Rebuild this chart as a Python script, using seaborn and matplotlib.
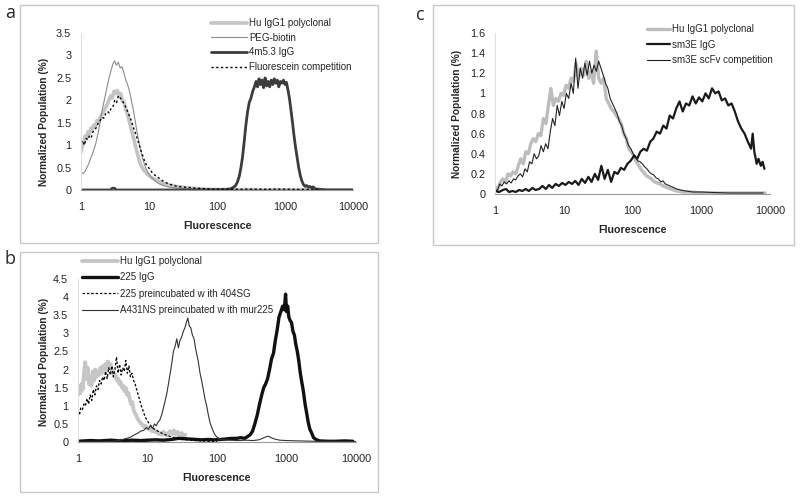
import numpy as np
import seaborn as sns
import matplotlib.pyplot as plt
from matplotlib.patches import Rectangle

sns.set_theme(style="white")
plt.rcParams["font.family"] = ["Liberation Sans", "DejaVu Sans"]

# ---------------- panel a ----------------
a_hu_x = [1.0, 1.05, 1.1, 1.15, 1.2, 1.27, 1.33, 1.4, 1.47, 1.55,
          1.63, 1.72, 1.82, 1.92, 2.03, 2.15, 2.28, 2.42, 2.57, 2.72,
          2.88, 3.05, 3.23, 3.42, 3.62, 3.83, 4.05, 4.3, 4.55, 4.82,
          5.1, 5.4, 5.72, 6.05, 6.4, 6.8, 7.2, 7.6, 8.1, 8.6,
          9.1, 9.7, 10.3, 11, 12, 13, 14.5, 16, 18, 20,
          22.5, 25, 28, 32, 37, 43, 50, 60, 75, 100,
          200, 500, 1000, 3000, 10000]
a_hu_y = [0.85, 1.0, 1.05, 1.2, 1.15, 1.3, 1.25, 1.38, 1.35, 1.45,
          1.42, 1.55, 1.52, 1.62, 1.68, 1.75, 1.82, 1.9, 2.0, 2.1,
          2.05, 2.2, 2.15, 2.22, 2.1, 2.15, 2.0, 1.95, 1.8, 1.7,
          1.55, 1.4, 1.25, 1.1, 0.95, 0.8, 0.65, 0.55, 0.48, 0.42,
          0.38, 0.34, 0.3, 0.27, 0.24, 0.21, 0.18, 0.15, 0.13, 0.11,
          0.1, 0.08, 0.07, 0.06, 0.05, 0.04, 0.03, 0.02, 0.015, 0.01,
          0.01, 0.005, 0.005, 0.005, 0.005]

a_peg_x = [1.0, 1.08, 1.15, 1.22, 1.3, 1.38, 1.47, 1.56, 1.66, 1.77,
           1.88, 2.0, 2.13, 2.27, 2.42, 2.58, 2.75, 2.93, 3.12, 3.32,
           3.54, 3.77, 4.0, 4.27, 4.55, 4.85, 5.17, 5.5, 5.86, 6.25,
           6.65, 7.1, 7.55, 8.05, 8.6, 9.15, 9.75, 10.4, 11.1, 12,
           13, 14.5, 16, 18, 20, 23, 27, 32, 40, 50,
           70, 100, 300, 1000, 3000, 10000]
a_peg_y = [0.38, 0.37, 0.42, 0.5, 0.58, 0.7, 0.8, 0.92, 1.05, 1.25,
           1.45, 1.7, 1.9, 2.1, 2.3, 2.5, 2.65, 2.8, 2.88, 2.78,
           2.85, 2.72, 2.75, 2.62, 2.45, 2.35, 2.2, 2.0, 1.8, 1.55,
           1.3, 1.08, 0.88, 0.7, 0.56, 0.46, 0.38, 0.32, 0.27, 0.22,
           0.17, 0.13, 0.1, 0.08, 0.06, 0.05, 0.04, 0.03, 0.02, 0.015,
           0.01, 0.01, 0.01, 0.005, 0.005, 0.005]

a_4m_x = [1, 2.7, 2.9, 3.1, 3.3, 10, 30, 100, 140, 160,
          175, 188, 200, 212, 225, 238, 252, 266, 282, 298,
          316, 335, 355, 375, 395, 415, 437, 460, 485, 510,
          537, 565, 595, 627, 660, 695, 730, 770, 810, 855,
          900, 950, 1000, 1050, 1100, 1160, 1220, 1290, 1360, 1430,
          1510, 1590, 1680, 1770, 1870, 1970, 2080, 2200, 2320, 2450,
          2600, 2750, 2900, 3100, 3300, 3600, 4000, 10000]
a_4m_y = [0.0, 0.0, 0.04, 0.04, 0.0, 0.0, 0.0, 0.005, 0.01, 0.03,
          0.06, 0.1, 0.18, 0.3, 0.5, 0.75, 1.1, 1.45, 1.75, 1.95,
          2.05, 2.2, 2.3, 2.42, 2.3, 2.48, 2.35, 2.45, 2.28, 2.5,
          2.32, 2.42, 2.3, 2.45, 2.35, 2.48, 2.38, 2.45, 2.3, 2.42,
          2.38, 2.45, 2.35, 2.4, 2.25, 2.05, 1.8, 1.5, 1.2, 0.95,
          0.72, 0.5, 0.32, 0.2, 0.12, 0.08, 0.1, 0.06, 0.08, 0.05,
          0.07, 0.03, 0.02, 0.02, 0.01, 0.01, 0.0, 0.0]

a_fl_x = [1.0, 1.06, 1.12, 1.19, 1.26, 1.34, 1.42, 1.5, 1.6, 1.7,
          1.8, 1.92, 2.04, 2.17, 2.3, 2.45, 2.6, 2.77, 2.95, 3.14,
          3.34, 3.55, 3.78, 4.02, 4.28, 4.55, 4.84, 5.15, 5.48, 5.83,
          6.2, 6.6, 7.02, 7.47, 7.95, 8.45, 9.0, 9.6, 10.2, 11,
          12, 13.2, 14.5, 16, 18, 20, 23, 26, 30, 35,
          42, 50, 65, 90, 130, 200, 300, 500, 800, 1200,
          2000, 3000]
a_fl_y = [1.05, 1.1, 1.0, 1.15, 1.12, 1.22, 1.18, 1.3, 1.35, 1.4,
          1.5, 1.55, 1.62, 1.6, 1.7, 1.75, 1.72, 1.82, 1.85, 2.0,
          1.95, 2.1, 2.05, 2.0, 1.92, 1.85, 1.75, 1.65, 1.55, 1.42,
          1.3, 1.18, 1.05, 0.92, 0.8, 0.68, 0.58, 0.52, 0.47, 0.4,
          0.34, 0.29, 0.25, 0.2, 0.16, 0.13, 0.1, 0.08, 0.07, 0.06,
          0.05, 0.04, 0.03, 0.02, 0.02, 0.015, 0.02, 0.015, 0.02, 0.015,
          0.01, 0.01]

# ---------------- panel b ----------------
b_hu_x = [1.0, 1.04, 1.08, 1.12, 1.17, 1.22, 1.27, 1.32, 1.38, 1.44,
          1.5, 1.56, 1.63, 1.7, 1.77, 1.85, 1.93, 2.01, 2.1, 2.19,
          2.28, 2.38, 2.48, 2.59, 2.7, 2.82, 2.94, 3.07, 3.2, 3.34,
          3.48, 3.63, 3.79, 3.95, 4.12, 4.3, 4.49, 4.68, 4.88, 5.09,
          5.31, 5.54, 5.78, 6.03, 6.29, 6.56, 6.85, 7.15, 7.46, 7.78,
          8.12, 8.47, 8.84, 9.22, 9.62, 10.04, 10.5, 11, 11.6, 12.2,
          12.9, 13.6, 14.4, 15.2, 16, 17, 18, 19, 20, 21.2,
          22.5, 24, 25.5, 27, 29, 31, 33, 35]
b_hu_y = [1.3, 1.5, 1.35, 1.6, 1.45, 1.9, 2.2, 1.75, 2.05, 1.6,
          1.7, 1.55, 1.95, 1.7, 2.0, 1.8, 1.95, 1.85, 2.05, 1.9,
          2.1, 1.95, 2.15, 2.0, 2.22, 2.05, 2.15, 1.9, 1.95, 1.8,
          1.85, 1.7, 1.75, 1.6, 1.65, 1.5, 1.55, 1.4, 1.5, 1.3,
          1.35, 1.2, 1.05, 1.1, 0.9, 0.8, 0.75, 0.65, 0.6, 0.55,
          0.5, 0.48, 0.42, 0.45, 0.38, 0.4, 0.35, 0.38, 0.3, 0.33,
          0.28, 0.3, 0.22, 0.25, 0.2, 0.28, 0.22, 0.18, 0.25, 0.3,
          0.22, 0.32, 0.2, 0.28, 0.18, 0.25, 0.15, 0.2]

b_225_x = [1, 1.5, 2, 3, 4, 6, 8, 10, 13, 17,
           22, 28, 35, 42, 50, 60, 75, 90, 110, 130,
           160, 190, 220, 250, 275, 300, 325, 350, 380, 410,
           440, 470, 500, 535, 570, 610, 650, 690, 735, 780,
           830, 880, 930, 970, 1000, 1040, 1080, 1130, 1180, 1240,
           1300, 1360, 1430, 1500, 1580, 1660, 1750, 1850, 1950, 2050,
           2170, 2300, 2450, 2600, 2800, 3000, 4000, 5000, 7000, 9000]
b_225_y = [0.02, 0.04, 0.03, 0.05, 0.03, 0.05, 0.04, 0.05, 0.06, 0.05,
           0.07, 0.1, 0.09, 0.08, 0.07, 0.06, 0.07, 0.06, 0.07, 0.08,
           0.1, 0.1, 0.12, 0.1, 0.15, 0.2, 0.3, 0.5, 0.75, 1.05,
           1.3, 1.5, 1.6, 1.75, 2.0, 2.3, 2.45, 2.8, 3.1, 3.45,
           3.6, 3.75, 3.65, 4.08, 3.6, 3.75, 3.45, 3.35, 3.3, 3.05,
           2.95, 2.7, 2.5, 2.25, 1.9, 1.65, 1.4, 1.05, 0.8, 0.55,
           0.35, 0.25, 0.12, 0.08, 0.05, 0.03, 0.02, 0.02, 0.03, 0.02]

b_pre_x = [1.0, 1.05, 1.1, 1.16, 1.22, 1.28, 1.35, 1.42, 1.5, 1.58,
           1.66, 1.75, 1.84, 1.94, 2.04, 2.15, 2.26, 2.38, 2.5, 2.63,
           2.77, 2.92, 3.07, 3.23, 3.4, 3.58, 3.77, 3.97, 4.18, 4.4,
           4.63, 4.87, 5.13, 5.4, 5.68, 5.98, 6.3, 6.63, 6.98, 7.35,
           7.74, 8.15, 8.58, 9.03, 9.5, 10, 10.6, 11.3, 12, 13,
           14, 15.2, 16.5, 18, 20, 22, 25, 28, 32, 37,
           43, 50, 60, 75, 100]
b_pre_y = [0.85, 0.75, 0.95, 0.9, 1.05, 1.0, 1.2, 1.05, 1.3, 1.15,
           1.45, 1.3, 1.55, 1.45, 1.7, 1.6, 1.8, 1.7, 1.95, 1.75,
           2.05, 1.85, 2.1, 1.8, 2.0, 2.35, 1.9, 2.15, 1.85, 2.05,
           1.95, 2.25, 1.9, 2.1, 1.8, 1.9, 1.7, 1.6, 1.45, 1.3,
           1.15, 1.0, 0.88, 0.75, 0.65, 0.58, 0.5, 0.44, 0.38, 0.34,
           0.3, 0.27, 0.23, 0.2, 0.17, 0.14, 0.12, 0.1, 0.07, 0.06,
           0.05, 0.04, 0.03, 0.02, 0.01]

b_a431_x = [1, 2, 2.9, 3.5, 4.2, 5, 5.8, 6.5, 7.2, 8,
            8.8, 9.6, 10.3, 11, 11.8, 12.6, 13.4, 14.2, 15, 16,
            17, 18, 19, 20, 21, 22.3, 23.6, 25, 26.4, 27.8,
            29.3, 31, 32.7, 34.5, 36.3, 38, 40, 42, 44.3, 46.7,
            49, 51.5, 54, 57, 60, 63.5, 67, 71, 75, 79,
            84, 89, 95, 102, 110, 125, 150, 200, 260, 330,
            400, 450, 500, 550, 600, 680, 800, 1000, 1500, 2500,
            4000, 7000, 10000]
b_a431_y = [0.0, 0.0, 0.01, 0.03, 0.06, 0.1, 0.14, 0.2, 0.24, 0.3,
            0.32, 0.4, 0.35, 0.45, 0.38, 0.5, 0.45, 0.55, 0.6, 0.75,
            0.95, 1.15, 1.35, 1.6, 1.85, 2.15, 2.5, 2.65, 2.85, 2.6,
            2.8, 2.9, 3.05, 3.15, 3.3, 3.42, 3.2, 3.15, 2.95, 2.85,
            2.6, 2.4, 2.2, 1.9, 1.7, 1.45, 1.2, 1.0, 0.75, 0.55,
            0.4, 0.28, 0.18, 0.12, 0.08, 0.06, 0.05, 0.04, 0.05, 0.04,
            0.06, 0.1, 0.14, 0.16, 0.12, 0.08, 0.05, 0.04, 0.03, 0.02,
            0.02, 0.01, 0.01]

# ---------------- panel c ----------------
c_hu_x = [1.0, 1.1, 1.2, 1.3, 1.42, 1.55, 1.68, 1.83, 2.0, 2.18,
          2.37, 2.58, 2.8, 3.05, 3.32, 3.6, 3.92, 4.27, 4.64, 5.05,
          5.5, 5.98, 6.5, 7.07, 7.7, 8.37, 9.1, 9.9, 10.8, 11.7,
          12.8, 13.9, 15.1, 16.4, 17.9, 19.5, 21.2, 23, 25, 27.2,
          29.6, 32.2, 35, 38.1, 41.5, 45.1, 49, 53.4, 58, 63,
          68.6, 74.6, 81.2, 88.3, 96, 104, 114, 124, 135, 147,
          160, 180, 210, 250, 300, 360, 440, 550, 700, 1000,
          1500, 2500, 4000, 6000, 8500]
c_hu_y = [0.07, 0.05, 0.12, 0.15, 0.12, 0.2, 0.18, 0.22, 0.2, 0.28,
          0.35, 0.3, 0.42, 0.4, 0.5, 0.55, 0.52, 0.6, 0.58, 0.75,
          0.7, 0.88, 1.05, 0.88, 0.95, 0.92, 1.0, 0.98, 1.08, 1.05,
          1.15, 1.12, 1.3, 1.15, 1.25, 1.18, 1.32, 1.15, 1.22, 1.1,
          1.42, 1.15, 1.1, 1.15, 0.95, 0.9, 0.85, 0.82, 0.78, 0.75,
          0.7, 0.6, 0.55, 0.45, 0.42, 0.38, 0.32, 0.28, 0.24, 0.21,
          0.18, 0.16, 0.12, 0.1, 0.07, 0.05, 0.03, 0.02, 0.02, 0.01,
          0.01, 0.01, 0.01, 0.01, 0.01]

c_igg_x = [1.0, 1.15, 1.3, 1.45, 1.6, 1.8, 2.0, 2.25, 2.5, 2.8,
           3.1, 3.5, 3.9, 4.4, 4.9, 5.5, 6.1, 6.8, 7.6, 8.5,
           9.5, 10.6, 11.8, 13.2, 14.7, 16.4, 18.3, 20.4, 22.8, 25.4,
           28.3, 31.6, 35.2, 39.3, 43.8, 48.9, 54.5, 60.8, 67.8, 75.6,
           84.3, 94, 105, 117, 130, 145, 162, 181, 201, 225,
           251, 280, 312, 348, 388, 433, 483, 538, 600, 669,
           746, 832, 928, 1035, 1154, 1287, 1435, 1600, 1785, 1990,
           2219, 2475, 2760, 3078, 3432, 3827, 4268, 4760, 5308, 5600,
           5920, 6400, 6800, 7360, 7800, 8300]
c_igg_y = [0.03, 0.02, 0.04, 0.05, 0.02, 0.03, 0.02, 0.04, 0.03, 0.05,
           0.03, 0.06, 0.04, 0.05, 0.08, 0.05, 0.09, 0.06, 0.1, 0.08,
           0.11, 0.09, 0.12, 0.1, 0.13, 0.09, 0.15, 0.11, 0.17, 0.12,
           0.2, 0.14, 0.28, 0.15, 0.24, 0.12, 0.22, 0.2, 0.26, 0.24,
           0.3, 0.33, 0.38, 0.35, 0.42, 0.45, 0.43, 0.52, 0.55, 0.62,
           0.6, 0.68, 0.65, 0.78, 0.75, 0.85, 0.92, 0.82, 0.9, 0.88,
           0.97, 0.9, 0.96, 0.92, 1.0, 0.95, 1.05, 1.0, 1.02, 0.93,
           0.95, 0.88, 0.9, 0.82, 0.72, 0.65, 0.6, 0.52, 0.45, 0.6,
           0.42, 0.3, 0.35, 0.28, 0.32, 0.25]

c_scfv_x = [1.0, 1.08, 1.17, 1.26, 1.36, 1.47, 1.59, 1.72, 1.86, 2.0,
            2.16, 2.34, 2.52, 2.73, 2.95, 3.18, 3.44, 3.71, 4.01, 4.33,
            4.68, 5.06, 5.46, 5.9, 6.37, 6.88, 7.43, 8.03, 8.67, 9.37,
            10.1, 10.9, 11.8, 12.8, 13.8, 14.9, 16.1, 17.4, 18.8, 20.3,
            21.9, 23.7, 25.6, 27.6, 29.8, 32.2, 34.8, 37.6, 40.6, 43.8,
            47.3, 51.1, 55.2, 59.6, 64.4, 69.5, 75.1, 81.1, 87.6, 94.6,
            102, 110, 119, 129, 139, 150, 162, 175, 189, 204,
            220, 238, 257, 278, 300, 324, 350, 378, 408, 441,
            500, 600, 750, 1000, 1500, 2500, 4000, 6000, 8000]
c_scfv_y = [0.05, 0.03, 0.1, 0.08, 0.12, 0.1, 0.13, 0.11, 0.15, 0.14,
            0.18, 0.2, 0.17, 0.25, 0.22, 0.32, 0.3, 0.4, 0.35, 0.38,
            0.48, 0.42, 0.5, 0.45, 0.62, 0.75, 0.68, 0.88, 0.78, 0.92,
            0.85, 1.0, 0.95, 1.1, 1.0, 1.35, 1.05, 1.25, 1.15, 1.3,
            1.18, 1.32, 1.2, 1.28, 1.22, 1.32, 1.25, 1.18, 1.1, 1.05,
            0.95, 0.9, 0.85, 0.8, 0.72, 0.68, 0.6, 0.55, 0.48, 0.45,
            0.4, 0.38, 0.33, 0.32, 0.3, 0.27, 0.25, 0.22, 0.2, 0.19,
            0.16, 0.15, 0.12, 0.13, 0.1, 0.09, 0.08, 0.07, 0.06, 0.05,
            0.04, 0.03, 0.02, 0.02, 0.015, 0.01, 0.01, 0.01, 0.01]

x_ticks = [1, 10, 100, 1000, 10000]
x_tick_labels = ["1", "10", "100", "1000", "10000"]

W, H = 800, 496
fig = plt.figure(figsize=(W / 100, H / 100), dpi=100)


def px_axes(x0, y0, x1, y1):
    # pixel box, y measured from top
    return fig.add_axes([x0 / W, 1 - y1 / H, (x1 - x0) / W, (y1 - y0) / H])


def px_box(x0, y0, x1, y1):
    fig.patches.append(Rectangle((x0 / W, 1 - y1 / H), (x1 - x0) / W, (y1 - y0) / H,
                                 transform=fig.transFigure, fill=False,
                                 ec="#c8c8c8", lw=1.0))


def draw(ax, x, y, label, **kw):
    sns.lineplot(x=x, y=y, ax=ax, label=label, sort=False, estimator=None, **kw)


def style(ax, ymax, ystep, ylab_xy):
    ax.set_xscale("log")
    ax.set_xlim(1, 10000)
    ax.set_ylim(0, ymax)
    ax.set_xticks(x_ticks, labels=x_tick_labels)
    ax.minorticks_off()
    yt = np.arange(0, ymax + 1e-9, ystep)
    ax.set_yticks(yt, labels=[f"{v:g}" for v in yt])
    ax.tick_params(axis="x", length=3, width=0.6, color="#999999", pad=6,
                   labelsize=7.8, labelcolor="#222222")
    ax.tick_params(axis="y", length=0, pad=7, labelsize=7.8, labelcolor="#222222")
    for s in ["top", "right"]:
        ax.spines[s].set_visible(False)
    ax.spines["bottom"].set_color("#9a9a9a")
    ax.spines["bottom"].set_linewidth(0.8)
    ax.spines["left"].set_color("#dddddd")
    ax.spines["left"].set_linewidth(0.7)
    ax.set_facecolor("none")
    ax.set_xlabel("Fluorescence", fontsize=7.7, fontweight="bold", labelpad=6)
    ax.set_ylabel("Normalized Population (%)", fontsize=7.3, fontweight="bold")
    ax.yaxis.set_label_coords(*ylab_xy)


def legend(ax, x_px, top_px, hlen, spacing):
    ax.legend(loc="upper left", bbox_to_anchor=(x_px / W, 1 - top_px / H),
              bbox_transform=fig.transFigure, frameon=False, fontsize=7,
              handlelength=hlen, handletextpad=0.2, borderpad=0,
              borderaxespad=0, labelspacing=spacing)


# panel frames and letters
px_box(20, 5, 378, 243)
px_box(20, 252, 378, 492)
px_box(433, 5, 794, 245)
fig.text(5 / W, 1 - 13 / H, "a", fontsize=13, va="center", family="Open Sans")
fig.text(5 / W, 1 - 259 / H, "b", fontsize=13, va="center", family="Open Sans")
fig.text(416 / W, 1 - 15 / H, "c", fontsize=13, va="center", family="Open Sans")

# a
ax_a = px_axes(81, 33, 353, 190)
draw(ax_a, a_hu_x, a_hu_y, "Hu IgG1 polyclonal", color="#c4c4c4", linewidth=2.6)
draw(ax_a, a_peg_x, a_peg_y, "PEG-biotin", color="#8c8c8c", linewidth=0.8)
draw(ax_a, a_4m_x, a_4m_y, "4m5.3 IgG", color="#3c3c3c", linewidth=2.0)
draw(ax_a, a_fl_x, a_fl_y, "Fluorescein competition", color="black",
     linewidth=1.0, linestyle=(0, (1.6, 1.8)))
style(ax_a, 3.5, 0.5, (-0.118, 0.433))
legend(ax_a, 211, 18, 3.7, 0.48)

# b
ax_b = px_axes(78, 279, 356, 442)
draw(ax_b, b_hu_x, b_hu_y, "Hu IgG1 polyclonal", color="#c6c6c6", linewidth=2.8)
draw(ax_b, b_225_x, b_225_y, "225 IgG", color="#111111", linewidth=2.4)
draw(ax_b, b_pre_x, b_pre_y, "225 preincubated w ith 404SG", color="black",
     linewidth=0.9, linestyle=(0, (2, 1.5)))
draw(ax_b, b_a431_x, b_a431_y, "A431NS preincubated w ith mur225", color="#333333",
     linewidth=0.8)
style(ax_b, 4.5, 0.5, (-0.106, 0.494))
legend(ax_b, 82, 256, 3.7, 0.65)

# c
ax_c = px_axes(495, 33, 770, 194)
draw(ax_c, c_hu_x, c_hu_y, "Hu IgG1 polyclonal", color="#bdbdbd", linewidth=2.4)
draw(ax_c, c_igg_x, c_igg_y, "sm3E IgG", color="#1a1a1a", linewidth=1.6)
draw(ax_c, c_scfv_x, c_scfv_y, "sm3E scFv competition", color="#222222", linewidth=0.8)
style(ax_c, 1.6, 0.2, (-0.12, 0.497))
legend(ax_c, 647, 24, 2.4, 0.58)

fig.savefig("out.png", dpi=100)
